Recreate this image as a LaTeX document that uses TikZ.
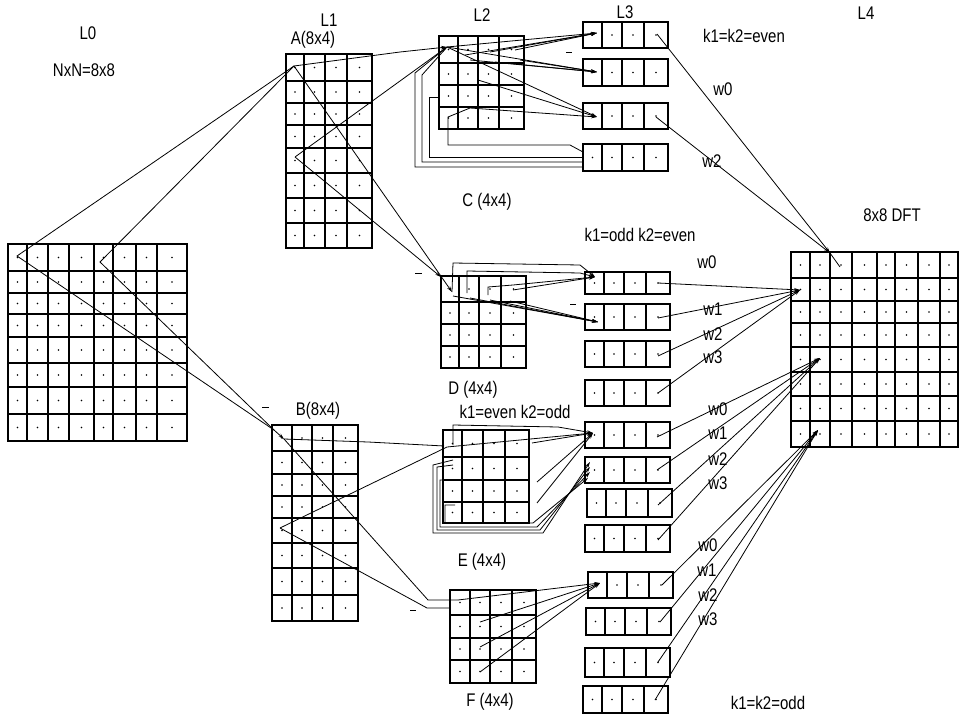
\documentclass[tikz,border=0pt]{standalone}
\usepackage{fontspec}
\usepackage{graphicx}
\setmainfont{Liberation Sans}
\usetikzlibrary{arrows.meta}

\newcommand{\mygrid}[6]{% x0, y0, cols (without x0), rows (without y0), x1, y1
  \draw[gridline] (#1,#2) rectangle (#5,#6);
  \foreach \cx in {#3} {\draw[gridline] (\cx,#2) -- (\cx,#6);}
  \foreach \ry in {#4} {\draw[gridline] (#1,\ry) -- (#5,\ry);}
  \foreach \cx [remember=\cx as \px (initially #1)] in {#3} {
    \foreach \ry [remember=\ry as \py (initially #2)] in {#4} {
      \fill ({(\cx+\px)/2},{(\ry+\py)/2}) circle (0.9);
    }
  }
}
\newcommand{\lbox}[3]{% x0, y0, y1
  \mygrid{#1}{#2}{#1+19,#1+39,#1+61,#1+85}{#3}{#1+85}{#3}}
\newcommand{\TT}[1]{\scalebox{1}[1.22]{#1}}

\begin{document}
\begin{tikzpicture}[x=1pt,y=-1pt,
  gridline/.style={line width=1.35pt},
  conn/.style={line width=0.8pt},
  arr/.style={conn,-{Stealth[length=6pt,width=3.5pt]}},
  lbl/.style={font=\fontsize{15}{17}\selectfont, inner sep=0pt},
  dashmark/.style={line width=1pt}]
\useasboundingbox (0,0) rectangle (959,717);

% ---------------- grids ----------------
% L0
\mygrid{8}{244}{27,48,69,94,113,136,157,187}{271,293,314,337,363,387,414,441}{187}{441}
% A and B (L1)
\mygrid{286}{54}{304,325,347,372}{81,103,125,148,173,198,223,248}{372}{248}
\mygrid{272}{425}{292,312,333,358}{451,474,496,518,543,568,595,621}{358}{621}
% C, D, E, F (L2)
\mygrid{439}{36}{458,478,499,524}{63,85,107,129}{524}{129}
\mygrid{441}{276}{459,479,501,526}{302,324,346,368}{526}{368}
\mygrid{443}{430}{462,483,505,529}{457,480,502,523}{529}{523}
\mygrid{450}{590}{470,490,512,536}{615,638,660,683}{536}{683}
% L3 boxes
\lbox{583}{22}{48}\lbox{583}{59}{86}\lbox{583}{103}{129}\lbox{583}{144}{171}
\lbox{585}{272}{294}\lbox{585}{304}{330}\lbox{585}{341}{367}\lbox{585}{380}{406}
\lbox{585}{422}{448}\lbox{585}{457}{483}\lbox{587}{489}{517}\lbox{585}{525}{552}
\lbox{588}{572}{598}\lbox{586}{608}{635}\lbox{585}{648}{677}\lbox{583}{686}{713}
% L4
\mygrid{791}{252}{810,830,852,877,895,918,940,958}{278,301,323,347,372,396,421,447}{958}{447}

% ---------------- texts ----------------
\node[lbl] (tL0) at (88,33) {\TT{L0}};
\node[lbl] (tN) at (84,70) {\TT{NxN=8x8}};
\node[lbl] (tL1) at (329,20) {\TT{L1}};
\node[lbl] (tA) at (313,40) {\TT{A(8x4)}};
\node[lbl] (tL2) at (482,15) {\TT{L2}};
\node[lbl] (tL3) at (625,12) {\TT{L3}};
\node[lbl] (tkee) at (744,36) {\TT{k1=k2=even}};
\node[lbl] (tL4) at (866,13) {\TT{L4}};
\node[lbl] (wc0) at (723,89) {\TT{w0}};
\node[lbl] (wc2) at (712,161) {\TT{w2}};
\node[lbl] (tC) at (487,202) {\TT{C (4x4)}};
\node[lbl] (tDFT) at (892,215) {\TT{8x8 DFT}};
\node[lbl] (tkoe) at (640,235) {\TT{k1=odd k2=even}};
\node[lbl] (wd0) at (707,262) {\TT{w0}};
\node[lbl] (wd1) at (713,309) {\TT{w1}};
\node[lbl] (wd2) at (713,334) {\TT{w2}};
\node[lbl] (wd3) at (713,357) {\TT{w3}};
\node[lbl] (tD) at (473,390) {\TT{D (4x4)}};
\node[lbl] (tkeo) at (515,412) {\TT{k1=even k2=odd}};
\node[lbl] (tB) at (318,411) {\TT{B(8x4)}};
\node[lbl] (we0) at (718,409) {\TT{w0}};
\node[lbl] (we1) at (718,433) {\TT{w1}};
\node[lbl] (we2) at (718,459) {\TT{w2}};
\node[lbl] (we3) at (718,483) {\TT{w3}};
\node[lbl] (tE) at (482,562) {\TT{E (4x4)}};
\node[lbl] (wf0) at (708,545) {\TT{w0}};
\node[lbl] (wf1) at (707,570) {\TT{w1}};
\node[lbl] (wf2) at (708,595) {\TT{w2}};
\node[lbl] (wf3) at (708,619) {\TT{w3}};
\node[lbl] (tF) at (490,702) {\TT{F (4x4)}};
\node[lbl] (tkoo) at (768,703) {\TT{k1=k2=odd}};

% ---------------- key points ----------------
\coordinate (a00) at (294,66);
\coordinate (a40) at (295,157);
\coordinate (l0a) at (17,256);
\coordinate (l0b) at (100,262);
\coordinate (bin) at (274,430);
\coordinate (b00) at (284,439);
\coordinate (b40) at (280,528);
\coordinate (c00) at (447,47);
\coordinate (dinA) at (441,277);
\coordinate (dinB) at (452,292);
\coordinate (c1in) at (597,33);
\coordinate (c2in) at (597,72);
\coordinate (c3in) at (597,117);
\coordinate (c1out) at (657,34);
\coordinate (c3out) at (656,117);
\coordinate (dftC) at (830,253);
\coordinate (d1in) at (595,277);
\coordinate (d2in) at (598,322);
\coordinate (d1out) at (658,283);
\coordinate (d2out) at (658,318);
\coordinate (d3out) at (658,356);
\coordinate (d4out) at (658,393);
\coordinate (dftD) at (800,290);
\coordinate (e1in) at (593,433);
\coordinate (e1out) at (657,437);
\coordinate (e2out) at (657,470);
\coordinate (e3out) at (658,505);
\coordinate (e4out) at (658,540);
\coordinate (dftE) at (820,358);
\coordinate (f1in) at (600,583);
\coordinate (f1out) at (662,585);
\coordinate (f2out) at (660,622);
\coordinate (f3out) at (658,662);
\coordinate (f4out) at (655,700);
\coordinate (dftF) at (818,430);

% ---------------- L0 <-> L1 ----------------
\draw[conn] (a00) -- (l0a) -- (bin);
\draw[conn] (a00) -- (l0b) -- (bin);
\draw[arr] (bin) -- (b00);

% ---------------- A -> C, D ----------------
\draw[arr] (a00) -- (400,52) -- (c00);
\draw[arr] (a40) -- (c00);
\draw[arr] (a00) -- (dinB);
\draw[arr] (a40) -- (dinA);

% ---------------- C -> L3 ----------------
\foreach \p in {(c00),(465,55),(490,52),(515,50)} {\draw[arr] \p -- (c1in);}
\foreach \p in {(c00),(470,60),(495,62),(520,60)} {\draw[arr] \p -- (c2in);}
\foreach \p in {(c00),(478,80),(470,108)} {\draw[arr] \p -- (c3in);}
\draw[conn] (c00) -- (415,73) -- (415,167) -- (583,167);
\draw[conn] (c00) -- (422,75) -- (422,162) -- (583,162);
\draw[conn] (439,97) -- (429,97) -- (429,157) -- (583,157);
\draw[conn] (470,108) -- (448,117) -- (448,145) -- (570,145) -- (583,152);

% ---------------- D -> L3 ----------------
\draw[arr] (dinB) -- (453,263) -- (580,265) -- (d1in);
\draw[arr] (467,293) -- (467,271) -- (580,273) -- (d1in);
\draw[arr] (488,295) -- (488,287) -- (513,285) -- (d1in);
\draw[arr] (513,290) -- (d1in);
\foreach \p in {(453,296),(470,298),(490,300),(510,301)} {\draw[arr] \p -- (d2in);}

% ---------------- B -> E, F ----------------
\draw[conn] (b00) -- (368,442) -- (444,446);
\draw[arr] (b40) -- (447,447) -- (e1in);
\draw[arr] (453,445) -- (453,425) -- (558,427) -- (e1in);
\foreach \p in {(532,443),(537,482),(537,503)} {\draw[arr] \p -- (e1in);}
\draw[arr] (453,460) -- (433,465) -- (433,533) -- (543,533) -- (590,462);
\draw[arr] (453,465) -- (437,467) -- (437,530) -- (540,530) -- (590,467);
\draw[arr] (455,480) -- (440,480) -- (440,527) -- (537,527) -- (590,472);
\draw[arr] (455,505) -- (445,505) -- (445,523) -- (533,523) -- (588,478);
\draw[conn] (b00) -- (428,600) -- (458,600);
\draw[conn] (b40) -- (427,608) -- (450,608);
\foreach \p in {(458,600),(480,622),(480,647),(480,672)} {\draw[arr] \p -- (f1in);}

% ---------------- L3 -> L4 ----------------
\draw[arr] (c1out) -- (dftC);
\draw[arr] (c3out) -- (dftC);
\draw[conn] (dftC) -- (840,267);
\foreach \p in {(d1out),(d2out),(d3out),(d4out)} {\draw[arr] \p -- (dftD);}
\foreach \p in {(e1out),(e2out),(e3out),(e4out)} {\draw[arr] \p -- (dftE);}
\foreach \p in {(f1out),(f2out),(f3out),(f4out)} {\draw[arr] \p -- (dftF);}

% ---------------- small marks ----------------
\draw[dashmark] (262,407) -- (269,407);
\draw[dashmark] (415,273) -- (422,273);
\draw[dashmark] (410,610) -- (416,610);
\draw[dashmark] (566,53) -- (572,53);
\draw[dashmark] (570,304) -- (576,304);
\end{tikzpicture}
\end{document}
